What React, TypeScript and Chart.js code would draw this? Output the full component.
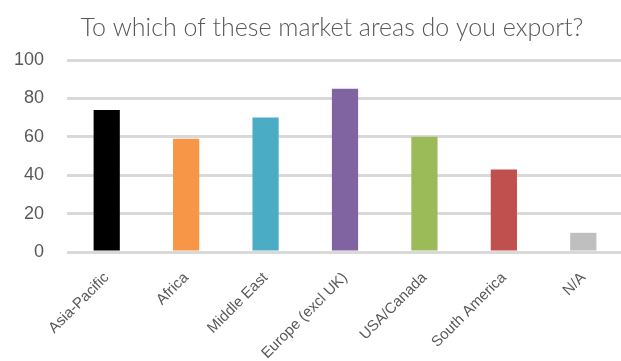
import React, { useEffect, useRef } from "react";
import { Chart, registerables } from "chart.js";

Chart.register(...registerables);

const TITLE = "To which of these market areas do you export?";
const categories = [
  "Asia-Pacific",
  "Africa",
  "Middle East",
  "Europe (excl UK)",
  "USA/Canada",
  "South America",
  "N/A",
];
const values = [74, 59, 70, 85, 60, 43, 10];
const barColors = [
  "#000000",
  "#F79646",
  "#4BACC6",
  "#8064A2",
  "#9BBB59",
  "#C0504D",
  "#BFBFBF",
];
const yMin = 0;
const yMax = 100;
const yStep = 20;

// Title drawn by hand so it can sit slightly right of the canvas centre.
const titlePlugin = {
  id: "offsetTitle",
  afterDraw(chart: any) {
    const ctx = chart.ctx;
    ctx.save();
    ctx.font = "300 25px Lato";
    ctx.fillStyle = "#595959";
    ctx.textAlign = "center";
    ctx.textBaseline = "alphabetic";
    ctx.fillText(TITLE, 332, 36);
    ctx.restore();
  },
};

export default function App() {
  const canvasRef = useRef<HTMLCanvasElement | null>(null);

  useEffect(() => {
    const canvas = canvasRef.current;
    if (!canvas) return;
    const chart = new Chart(canvas, {
      type: "bar",
      data: {
        labels: categories,
        datasets: [
          {
            data: values,
            backgroundColor: barColors,
            borderWidth: 0,
            barPercentage: 0.33,
            categoryPercentage: 1,
          },
        ],
      },
      options: {
        animation: false,
        responsive: false,
        maintainAspectRatio: false,
        layout: { padding: { left: 0, top: 60, right: 0, bottom: 0 } },
        plugins: {
          legend: { display: false },
          tooltip: { enabled: false },
          title: { display: false },
        },
        scales: {
          x: {
            grid: { display: false, drawTicks: false },
            border: { display: false },
            ticks: {
              color: "#595959",
              font: { family: "Liberation Sans", size: 15 },
              minRotation: 45,
              maxRotation: 45,
              padding: 17,
              autoSkip: false,
            },
            afterFit: (scale: any) => {
              scale.height = 109;
            },
          },
          y: {
            min: yMin,
            max: yMax,
            border: { display: false },
            grid: { color: "#D9D9D9", lineWidth: 3, drawTicks: false },
            ticks: {
              stepSize: yStep,
              color: "#595959",
              font: { family: "Liberation Sans", size: 18 },
              padding: 23,
            },
            afterFit: (scale: any) => {
              scale.width = 67;
            },
          },
        },
      },
      plugins: [titlePlugin],
    });
    return () => chart.destroy();
  }, []);

  return (
    <div style={{ position: "fixed", left: 0, top: 0, width: 623, height: 361, background: "#fff" }}>
      <canvas ref={canvasRef} width={623} height={361} style={{ display: "block" }} />
    </div>
  );
}
